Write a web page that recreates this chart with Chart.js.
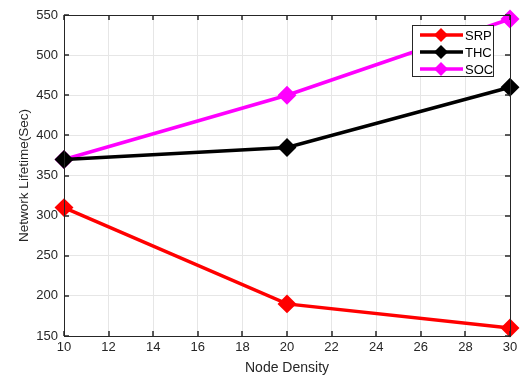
<!DOCTYPE html>
<html><head><meta charset="utf-8">
<script src="https://cdn.jsdelivr.net/npm/chart.js@4/dist/chart.umd.min.js"></script>
<style>html,body{margin:0;padding:0;background:#fff;}#w{width:522px;height:377px;}</style>
</head><body><div id="w"><canvas id="c" width="522" height="377"></canvas></div>
<script>
const nodeDensity = [10, 20, 30];
const srp = [310, 190, 160];
const thc = [370, 385, 460];
const soc = [370, 450, 545];
const seriesNames = ['SRP', 'THC', 'SOC'];
const seriesColors = ['#ff0000', '#000000', '#ff00ff'];
const xTicks = [10,12,14,16,18,20,22,24,26,28,30];
const yTicks = [150,200,250,300,350,400,450,500,550];

const FONT = 'Liberation Sans, Arial, sans-serif';
function pts(v){ return nodeDensity.map((x,i)=>({x:x,y:v[i]})); }
const dsets = [srp, thc, soc].map((v,i)=>({
  label: seriesNames[i], data: pts(v), borderColor: seriesColors[i], backgroundColor: seriesColors[i],
  borderWidth: 3.5, pointStyle: 'rectRot', pointRadius: 7, pointHoverRadius: 7, tension: 0, clip: false
}));

const boxPlugin = {
  id: 'box',
  afterDatasetsDraw(chart){
    const ctx = chart.ctx, a = chart.chartArea;
    const xs = chart.scales.x, ys = chart.scales.y;
    ctx.save();
    ctx.strokeStyle = '#262626'; ctx.lineWidth = 1;
    ctx.strokeRect(a.left+0.5, a.top+0.5, a.right-a.left, a.bottom-a.top);
    ctx.lineWidth = 1.5;
    xTicks.forEach(t=>{ const px = Math.round(xs.getPixelForValue(t));
      ctx.beginPath(); ctx.moveTo(px, a.bottom); ctx.lineTo(px, a.bottom-5); ctx.stroke();
      ctx.beginPath(); ctx.moveTo(px, a.top); ctx.lineTo(px, a.top+5); ctx.stroke(); });
    yTicks.forEach(t=>{ const py = Math.round(ys.getPixelForValue(t));
      ctx.beginPath(); ctx.moveTo(a.left, py); ctx.lineTo(a.left+5, py); ctx.stroke();
      ctx.beginPath(); ctx.moveTo(a.right, py); ctx.lineTo(a.right-5, py); ctx.stroke(); });
    // legend
    const lx = 412, ly = 25, lw = 81, lh = 51;
    ctx.fillStyle = '#fff'; ctx.fillRect(lx, ly, lw, lh);
    ctx.strokeStyle = '#262626'; ctx.lineWidth = 1; ctx.strokeRect(lx+0.5, ly+0.5, lw, lh);
    ctx.font = '13px ' + FONT; ctx.textBaseline = 'middle'; ctx.textAlign = 'left';
    seriesNames.forEach((n,i)=>{
      const y = ly + 10 + i*17;
      ctx.strokeStyle = seriesColors[i]; ctx.lineWidth = 3.5;
      ctx.beginPath(); ctx.moveTo(lx+8, y); ctx.lineTo(lx+51, y); ctx.stroke();
      ctx.fillStyle = seriesColors[i];
      ctx.beginPath(); ctx.moveTo(lx+29, y-7); ctx.lineTo(lx+36, y); ctx.lineTo(lx+29, y+7); ctx.lineTo(lx+22, y); ctx.closePath(); ctx.fill();
      ctx.fillStyle = '#000'; ctx.fillText(n, lx+53, y+1);
    });
    ctx.restore();
  }
};

new Chart(document.getElementById('c'), {
  type: 'line',
  data: { datasets: dsets },
  options: {
    responsive: false, animation: false, devicePixelRatio: 1,
    layout: { padding: { left: 16, right: 12, top: 15, bottom: 0 } },
    plugins: { legend: { display: false }, tooltip: { enabled: false } },
    scales: {
      x: { type: 'linear', min: 10, max: 30,
        afterBuildTicks(s){ s.ticks = xTicks.map(v=>({value:v})); },
        afterFit(s){ s.height = 41; },
        grid: { color: '#e6e6e6', drawTicks: false, lineWidth: 1 }, border: { display: false },
        ticks: { color: '#262626', font: { family: FONT, size: 13 }, padding: 4, maxRotation: 0 },
        title: { display: true, text: 'Node Density', color: '#262626', font: { family: FONT, size: 14 }, padding: { top: 1, bottom: 0 } } },
      y: { type: 'linear', min: 150, max: 550,
        afterBuildTicks(s){ s.ticks = yTicks.map(v=>({value:v})); },
        afterFit(s){ s.width = 48; },
        grid: { color: '#e6e6e6', drawTicks: false, lineWidth: 1 }, border: { display: false },
        ticks: { color: '#262626', font: { family: FONT, size: 13 }, padding: 6 },
        title: { display: true, text: 'Network Lifetime(Sec)', color: '#262626', font: { family: FONT, size: 13.5 }, padding: { top: 0, bottom: 2 } } }
    }
  },
  plugins: [boxPlugin]
});
</script></body></html>
